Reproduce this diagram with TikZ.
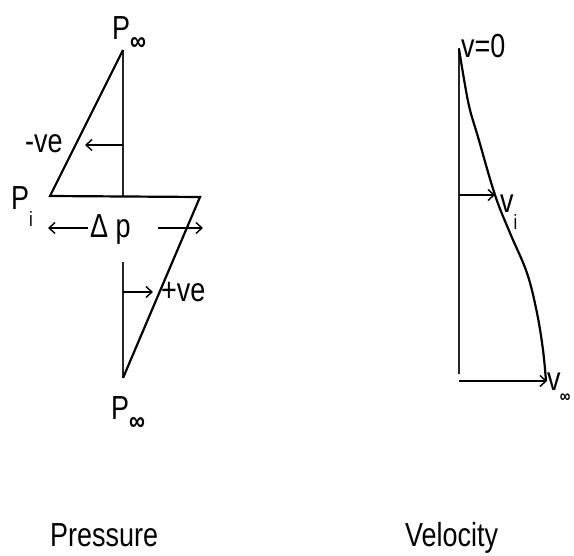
\documentclass[tikz,border=0pt]{standalone}
\usepackage{fontspec}
\setmainfont{Liberation Sans}
\usetikzlibrary{arrows.meta}
\newcommand{\subinf}{\raisebox{-0.3em}{\fontsize{24}{24}\selectfont\bfseries ∞}}
\newcommand{\subinfs}{\kern-1pt\raisebox{-0.35em}{\fontsize{16}{16}\selectfont\bfseries ∞}}
\newcommand{\subtxt}[1]{\raisebox{-0.5em}{\fontsize{18}{18}\selectfont #1}}
\newcommand{\tx}[1]{\scalebox{0.93}[1.15]{#1}}
\begin{document}
\begin{tikzpicture}[x=1pt,y=-1pt,
  lbl/.style={inner sep=0pt,anchor=base west,font=\fontsize{29}{30}\selectfont},
  edge/.style={line width=2.2pt},
  axis/.style={line width=1.8pt,black!85},
  arr/.style={line width=1.4pt,-{Straight Barb[length=6pt,width=11pt,line width=1.4pt]}}]
\useasboundingbox (0,0) rectangle (574,556);
% pressure diagram
\coordinate (ptop) at (123,50);
\coordinate (pl) at (50,196);
\coordinate (pr) at (200,197);
\coordinate (pmid) at (123,197);
\coordinate (plow) at (123,262);
\coordinate (pbot) at (123,378);
\coordinate (nveS) at (123,145);
\coordinate (nveE) at (85,145);
\coordinate (pveS) at (123,292);
\coordinate (pveE) at (153,292);
\coordinate (dlS) at (88,228);
\coordinate (dlE) at (48,228);
\coordinate (drS) at (158,228);
\coordinate (drE) at (203,228);
\draw[axis] (ptop) -- (pmid);
\draw[axis] (plow) -- (pbot);
\draw[edge,line join=miter] (ptop) -- (pl) -- (pr) -- (pbot);
\draw[arr] (nveS) -- (nveE);
\draw[arr] (pveS) -- (pveE);
\draw[arr] (dlS) -- (dlE);
\draw[arr] (drS) -- (drE);
\node[lbl] (ptoplbl) at (112,40) {\tx{P\subinf}};
\node[lbl] (pbotlbl) at (111,420) {\tx{P\subinf}};
\node[lbl] (pilbl) at (11,210) {\tx{P\subtxt{i}}};
\node[lbl] (nvelbl) at (25,153) {\tx{-ve}};
\node[lbl] (pvelbl) at (161,302) {\tx{+ve}};
\node[lbl] (dplbl) at (90,238) {\tx{Δ p}};
\node[lbl] (presslbl) at (50,547) {\tx{Pressure}};
% velocity diagram
\coordinate (vtop) at (459,48);
\coordinate (vbot) at (459,374);
\coordinate (viS) at (459,195);
\coordinate (viE) at (495,195);
\coordinate (vinfS) at (459,381);
\coordinate (vinfE) at (547,381);
\draw[axis] (vtop) -- (vbot);
\draw[edge] plot[smooth,tension=0.6] coordinates {(459,49) (465,85) (470,110) (478,137) (495,195) (510,233) (527,273) (537,313) (543,350) (546,381)};
\draw[arr] (viS) -- (viE);
\draw[arr] (vinfS) -- (vinfE);
\node[lbl] (v0lbl) at (461,58) {\tx{v=0}};
\node[lbl] (vilbl) at (500,213) {\tx{v\subtxt{i}}};
\node[lbl] (vinflbl) at (547,391) {\tx{v\subinfs}};
\node[lbl] (vellbl) at (405,547) {\tx{Velocity}};
\end{tikzpicture}
\end{document}
